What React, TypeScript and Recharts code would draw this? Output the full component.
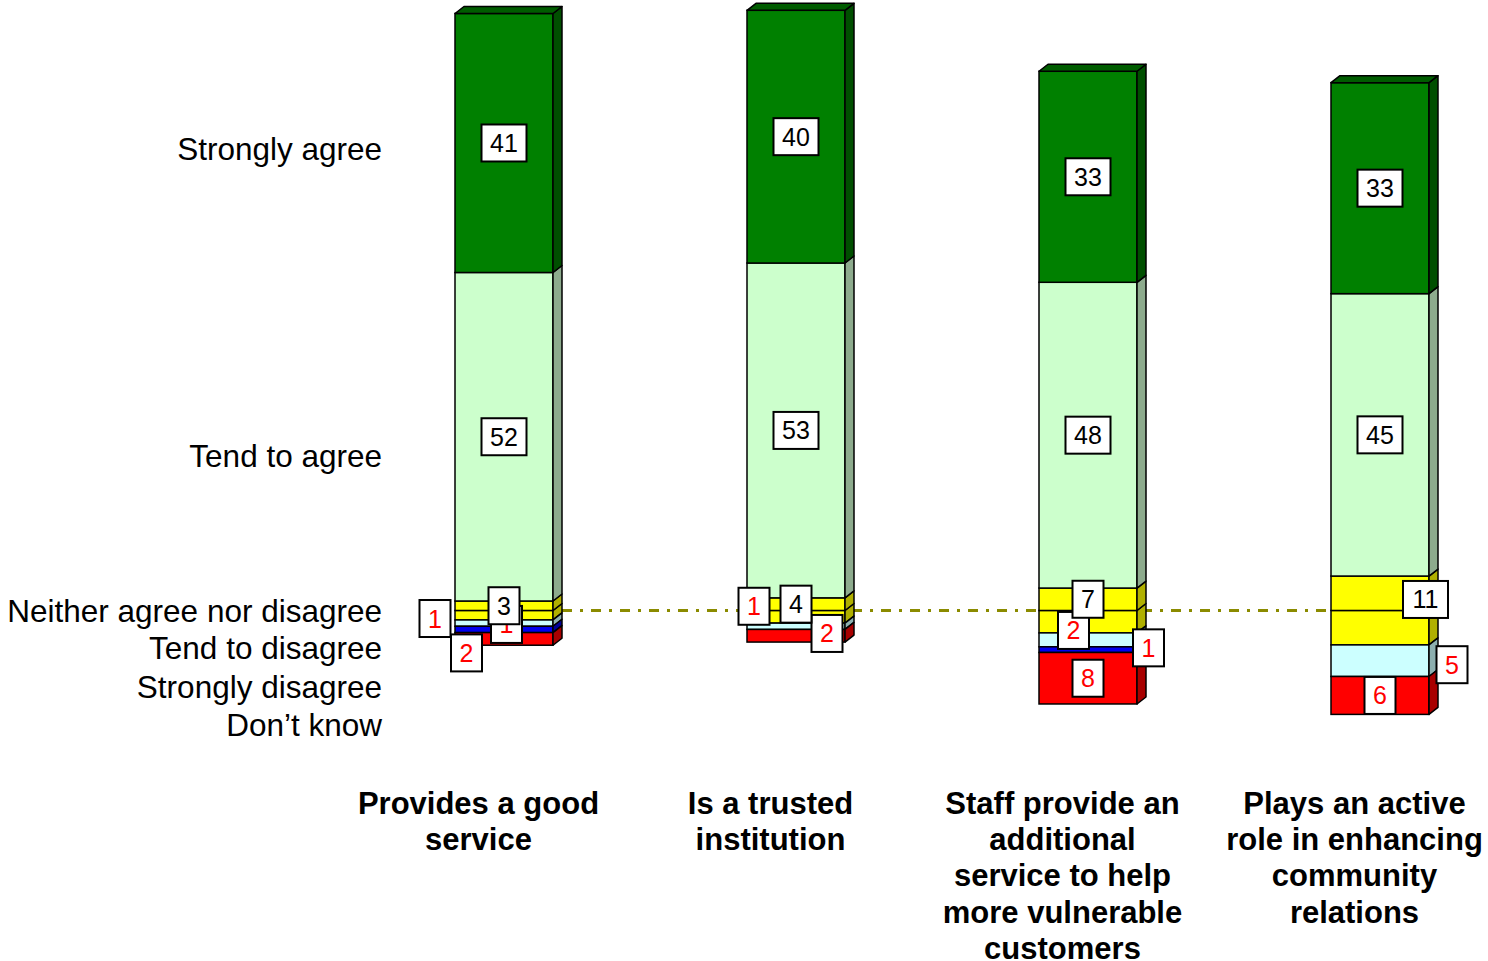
import { Bar, BarChart, LabelList, ReferenceLine, XAxis, YAxis } from "recharts";

const categories = [
  "Provides a good service",
  "Is a trusted institution",
  "Staff provide an additional service to help more vulnerable customers",
  "Plays an active role in enhancing community relations",
];

const categoryLines = [
  ["Provides a good", "service"],
  ["Is a trusted", "institution"],
  ["Staff provide an", "additional", "service to help", "more vulnerable", "customers"],
  ["Plays an active", "role in enhancing", "community", "relations"],
];

// percentages (labels show them rounded)
const stronglyAgree = [41, 40, 33.4, 33.4];
const tendAgree = [52, 53, 48.4, 44.7];
const neither = [3, 4, 7.1, 10.9];
const tendDisagree = [1, 1, 2.2, 5.0];
const stronglyDisagree = [1, 0, 0.9, 0];
const dontKnow = [2, 2, 8.15, 6.0];

const legendLabels = [
  "Strongly agree",
  "Tend to agree",
  "Neither agree nor disagree",
  "Tend to disagree",
  "Strongly disagree",
  "Don\u2019t know",
];
const legendAt = [73, 24.5, 0, -6, -12.1, -18.1];

const chartData = categories.map((name, i) => ({
  name,
  stronglyAgree: stronglyAgree[i],
  tendAgree: tendAgree[i],
  neitherPos: neither[i] / 2,
  neitherNeg: -neither[i] / 2,
  tendDisagree: -tendDisagree[i],
  stronglyDisagree: -stronglyDisagree[i],
  dontKnow: -dontKnow[i],
}));

type SeriesKey =
  | "stronglyAgree"
  | "tendAgree"
  | "neitherPos"
  | "neitherNeg"
  | "tendDisagree"
  | "stronglyDisagree"
  | "dontKnow";

const seriesStyle: Record<SeriesKey, { front: string; side: string; top?: string }> = {
  stronglyAgree: { front: "#008000", side: "#004f00", top: "#005c00" },
  tendAgree: { front: "#ccffcc", side: "#8dab8d" },
  neitherPos: { front: "#ffff00", side: "#b0b000" },
  neitherNeg: { front: "#ffff00", side: "#b0b000" },
  tendDisagree: { front: "#ccffff", side: "#8db0b0" },
  stronglyDisagree: { front: "#0000ee", side: "#00009a" },
  dontKnow: { front: "#ff0000", side: "#a80000" },
};

// which value each label shows, its text colour, and how far it was pushed off the segment centre
const labelValues: Partial<Record<SeriesKey, number[]>> = {
  stronglyAgree,
  tendAgree,
  neitherPos: neither,
  tendDisagree,
  stronglyDisagree,
  dontKnow,
};
const labelColor: Partial<Record<SeriesKey, string>> = {
  stronglyAgree: "#000",
  tendAgree: "#000",
  neitherPos: "#000",
  tendDisagree: "#ff0000",
  stronglyDisagree: "#ff0000",
  dontKnow: "#ff0000",
};
const labelNudge: Partial<Record<SeriesKey, [number, number][]>> = {
  neitherPos: [[0, 0], [0, 0], [0, 0], [45.5, 6.2]],
  tendDisagree: [[-69, -4.6], [-42, -20], [-14.5, -9.4], [72, 4]],
  stronglyDisagree: [[2.5, -5], [0, 0], [60.5, -1.8], [0, 0]],
  dontKnow: [[-37.5, 14], [31, -2.3], [0, 0], [0, 0]],
};

const DEPTH_X = 9;
const DEPTH_Y = 7;
const FONT = "'Liberation Sans', Arial, sans-serif";

function makeShape(key: SeriesKey) {
  return (props: any) => {
    const { x, y, width, height } = props;
    if (!height || Math.abs(height) < 0.5) return <g />;
    const s = seriesStyle[key];
    const top = height < 0 ? y + height : y;
    const h = Math.abs(height);
    const r = x + width;
    return (
      <g>
        <rect x={x} y={top} width={width} height={h} fill={s.front} stroke="#000" strokeWidth={1.5} />
        <polygon
          points={`${r},${top + h} ${r + DEPTH_X},${top + h - DEPTH_Y} ${r + DEPTH_X},${top - DEPTH_Y} ${r},${top}`}
          fill={s.side}
          stroke="#000"
          strokeWidth={1.5}
          strokeLinejoin="round"
        />
        {s.top && (
          <polygon
            points={`${x},${top} ${x + DEPTH_X},${top - DEPTH_Y} ${r + DEPTH_X},${top - DEPTH_Y} ${r},${top}`}
            fill={s.top}
            stroke="#000"
            strokeWidth={1.5}
            strokeLinejoin="round"
          />
        )}
      </g>
    );
  };
}

function makeLabel(key: SeriesKey) {
  return (props: any) => {
    const index: number = props.index;
    const raw = labelValues[key]?.[index];
    if (!raw) return null;
    const vb = props.viewBox ?? props;
    const top = vb.height < 0 ? vb.y + vb.height : vb.y;
    const [dx, dy] = labelNudge[key]?.[index] ?? [0, 0];
    const cx = vb.x + vb.width / 2 + dx;
    const cy = top + Math.abs(vb.height) / 2 + dy;
    const text = String(Math.round(raw));
    const w = text.length * 14 + 17;
    return (
      <g>
        <rect x={cx - w / 2} y={cy - 18.5} width={w} height={37} fill="#fff" stroke="#000" strokeWidth={2} />
        <text
          x={cx}
          y={cy}
          dy="0.36em"
          textAnchor="middle"
          fontFamily={FONT}
          fontSize={25}
          fill={labelColor[key]}
        >
          {text}
        </text>
      </g>
    );
  };
}

function CategoryTick(props: any) {
  const { x, y, payload } = props;
  const lines = categoryLines[categories.indexOf(payload.value)] ?? [];
  const tx = x - 25.5;
  return (
    <text x={tx} y={y} textAnchor="middle" fontFamily={FONT} fontSize={31} fontWeight="bold" fill="#000">
      {lines.map((line, i) => (
        <tspan key={line} x={tx} dy={i === 0 ? 14 : 36.2}>
          {line}
        </tspan>
      ))}
    </text>
  );
}

function LegendTick(props: any) {
  const { x, y, payload } = props;
  const label = legendLabels[legendAt.indexOf(payload.value)];
  return (
    <text x={x + 24} y={y} dy="0.35em" textAnchor="end" fontFamily={FONT} fontSize={31.5} fill="#000">
      {label}
    </text>
  );
}

// negative stack first so the neither labels sit on top of the small disagree labels
const barOrder: SeriesKey[] = [
  "neitherNeg",
  "tendDisagree",
  "stronglyDisagree",
  "dontKnow",
  "neitherPos",
  "tendAgree",
  "stronglyAgree",
];

export default function App() {
  return (
    <div
      style={{
        position: "absolute",
        left: 0,
        top: 0,
        width: 1488,
        height: 961,
        overflow: "hidden",
        background: "#fff",
      }}
    >
      <BarChart
        width={1526}
        height={961}
        data={chartData}
        stackOffset="sign"
        barSize={98}
        margin={{ top: 4, right: 0, bottom: 0, left: 0 }}
      >
        <XAxis
          dataKey="name"
          axisLine={false}
          tickLine={false}
          tickSize={0}
          tickMargin={0}
          height={161}
          interval={0}
          tick={<CategoryTick />}
        />
        <YAxis
          type="number"
          domain={[-30, 96]}
          ticks={legendAt}
          interval={0}
          width={358}
          axisLine={false}
          tickLine={false}
          tickSize={0}
          tickMargin={0}
          tick={<LegendTick />}
        />
        <ReferenceLine
          segment={[
            { x: categories[0], y: 0 },
            { x: categories[3], y: 0 },
          ]}
          stroke="#8b8b00"
          strokeWidth={3}
          strokeDasharray="10 8 3 8"
          zIndex={-10}
        />
        {barOrder.map((key) => (
          <Bar
            key={key}
            dataKey={key}
            stackId="a"
            isAnimationActive={false}
            shape={makeShape(key)}
          >
            {labelValues[key] && (
              <LabelList dataKey={key} content={makeLabel(key)} isAnimationActive={false} />
            )}
          </Bar>
        ))}
      </BarChart>
    </div>
  );
}
